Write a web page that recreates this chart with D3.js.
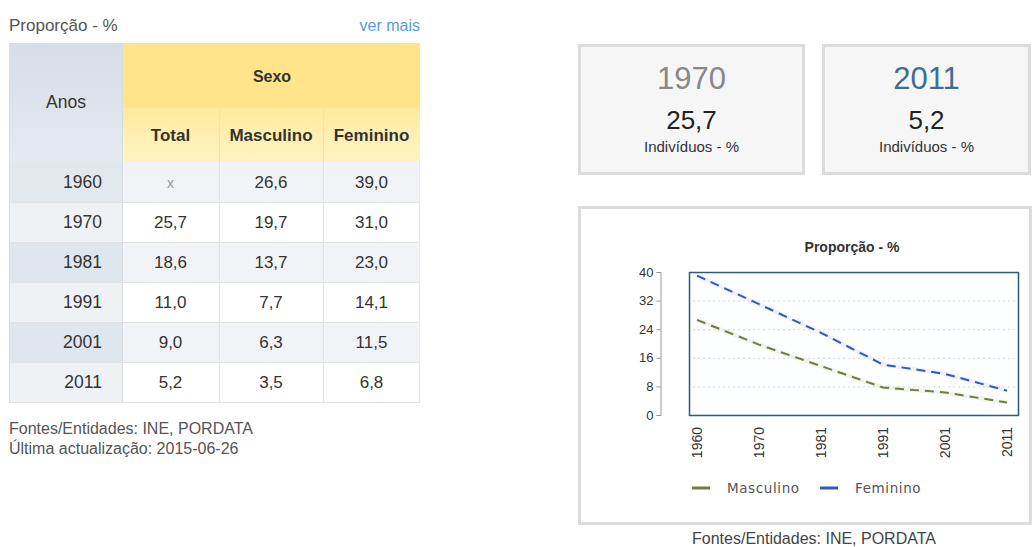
<!DOCTYPE html>
<html>
<head>
<meta charset="utf-8">
<script src="https://cdn.jsdelivr.net/npm/d3@7"></script>
<style>
  html, body { margin: 0; padding: 0; background: #fff; }
  svg { display: block; font-family: "Liberation Sans", Arial, sans-serif; }
</style>
</head>
<body>
<div id="page"></div>
<script>
// Data
const years = ['1960', '1970', '1981', '1991', '2001', '2011'];
const total = [null, 25.7, 18.6, 11.0, 9.0, 5.2];
const masculino = [26.6, 19.7, 13.7, 7.7, 6.3, 3.5];
const feminino = [39.0, 31.0, 23.0, 14.1, 11.5, 6.8];
const columns = ['Total', 'Masculino', 'Feminino'];
const yTicks = [0, 8, 16, 24, 32, 40];
const seriesNames = ['Masculino', 'Feminino'];

const fmt = v => v == null ? 'x' : d3.format('.1f')(v).replace('.', ',');

const svg = d3.select('#page').append('svg')
  .attr('width', 1033)
  .attr('height', 547);

// ---------- Left: table ----------
const table = svg.append('g').attr('class', 'table');

table.append('text')
  .attr('x', 9).attr('y', 31)
  .attr('font-size', 17).attr('fill', '#555')
  .text('Proporção - %');

table.append('text')
  .attr('x', 420).attr('y', 31)
  .attr('text-anchor', 'end')
  .attr('font-size', 16).attr('fill', '#5a9bd5')
  .text('ver mais');

const colX = d3.scaleOrdinal()
  .domain(['Anos', ...columns])
  .range([9, 122, 219, 323]);
const colW = d3.scaleOrdinal()
  .domain(['Anos', ...columns])
  .range([113, 97, 104, 97]);

const rowY = d3.scaleBand().domain(years).range([162, 402]);

// header cells
const grad = svg.append('defs');
const g1 = grad.append('linearGradient').attr('id', 'anosGrad').attr('x1', 0).attr('y1', 0).attr('x2', 0).attr('y2', 1);
g1.append('stop').attr('offset', 0).attr('stop-color', '#d5dee6');
g1.append('stop').attr('offset', 1).attr('stop-color', '#e4eaef');
const g2 = grad.append('linearGradient').attr('id', 'subGrad').attr('x1', 0).attr('y1', 0).attr('x2', 0).attr('y2', 1);
g2.append('stop').attr('offset', 0).attr('stop-color', '#ffeb9e');
g2.append('stop').attr('offset', 1).attr('stop-color', '#fff3c4');

table.append('rect')
  .attr('x', 9).attr('y', 43).attr('width', 113).attr('height', 119)
  .attr('fill', 'url(#anosGrad)');
table.append('rect')
  .attr('x', 122).attr('y', 43).attr('width', 298).attr('height', 65)
  .attr('fill', '#ffe48a');
table.append('rect')
  .attr('x', 122).attr('y', 108).attr('width', 298).attr('height', 54)
  .attr('fill', 'url(#subGrad)');

table.append('text')
  .attr('x', 66).attr('y', 108)
  .attr('text-anchor', 'middle')
  .attr('font-size', 17.5).attr('fill', '#333')
  .text('Anos');
table.append('text')
  .attr('x', 272).attr('y', 82)
  .attr('text-anchor', 'middle')
  .attr('font-size', 16).attr('font-weight', 'bold').attr('fill', '#333')
  .text('Sexo');

table.selectAll('.sub-head')
  .data(columns)
  .enter()
  .append('text')
  .attr('class', 'sub-head')
  .attr('x', d => colX(d) + colW(d) / 2)
  .attr('y', 141)
  .attr('text-anchor', 'middle')
  .attr('font-size', 17).attr('font-weight', 'bold').attr('fill', '#333')
  .text(d => d);

// body rows
const rows = years.map((y, i) => ({
  year: y,
  i,
  values: [total[i], masculino[i], feminino[i]]
}));

const row = table.selectAll('.row')
  .data(rows)
  .enter()
  .append('g')
  .attr('class', 'row')
  .attr('transform', d => `translate(0,${rowY(d.year)})`);

row.append('rect')
  .attr('x', 9).attr('width', 113).attr('height', rowY.bandwidth())
  .attr('fill', d => d.i === 0 ? '#e3e8ed' : (d.i % 2 === 0 ? '#dfe6ec' : '#eff2f5'));
row.append('rect')
  .attr('x', 122).attr('width', 298).attr('height', rowY.bandwidth())
  .attr('fill', d => d.i % 2 === 0 ? '#f1f3f6' : '#ffffff');

row.append('text')
  .attr('x', 102).attr('y', 26)
  .attr('text-anchor', 'end')
  .attr('font-size', 17.5).attr('fill', '#333')
  .text(d => d.year);

row.selectAll('.val')
  .data(d => d.values.map((v, k) => ({ v, col: columns[k] })))
  .enter()
  .append('text')
  .attr('class', 'val')
  .attr('x', d => colX(d.col) + colW(d.col) / 2)
  .attr('y', 26)
  .attr('text-anchor', 'middle')
  .attr('font-size', d => d.v == null ? 14 : 17)
  .attr('fill', d => d.v == null ? '#999' : '#333')
  .text(d => fmt(d.v));

// grid lines of the table
table.selectAll('.hline')
  .data(years.slice(1).concat(['end']))
  .enter()
  .append('line')
  .attr('x1', 9).attr('x2', 420)
  .attr('y1', d => d === 'end' ? 402.5 : rowY(d) + 0.5)
  .attr('y2', d => d === 'end' ? 402.5 : rowY(d) + 0.5)
  .attr('stroke', '#e2e2e2');

table.selectAll('.vline')
  .data(['Masculino', 'Feminino'])
  .enter()
  .append('line')
  .attr('x1', d => colX(d) + 0.5).attr('x2', d => colX(d) + 0.5)
  .attr('y1', 108).attr('y2', 402)
  .attr('stroke', '#e2e2e2');

table.append('line')
  .attr('x1', 122.5).attr('x2', 122.5).attr('y1', 43).attr('y2', 402)
  .attr('stroke', '#d6dce2');
table.append('line')
  .attr('x1', 9.5).attr('x2', 9.5).attr('y1', 43).attr('y2', 402)
  .attr('stroke', '#d8dde2');
table.append('line')
  .attr('x1', 419.5).attr('x2', 419.5).attr('y1', 162).attr('y2', 402)
  .attr('stroke', '#e6e6e6');

table.append('text')
  .attr('x', 9).attr('y', 434)
  .attr('font-size', 16).attr('fill', '#555')
  .text('Fontes/Entidades: INE, PORDATA');
table.append('text')
  .attr('x', 9).attr('y', 454)
  .attr('font-size', 16).attr('fill', '#555')
  .text('Última actualização: 2015-06-26');

// ---------- Right: highlight cards ----------
const cards = [
  { year: years[1], value: total[1], x: 578, w: 227, color: '#888' },
  { year: years[years.length - 1], value: total[total.length - 1], x: 822, w: 209, color: '#3d6e96' }
];

const card = svg.selectAll('.card')
  .data(cards)
  .enter()
  .append('g')
  .attr('class', 'card')
  .attr('transform', d => `translate(${d.x},44)`);

card.append('rect')
  .attr('x', 1.5).attr('y', 1.5)
  .attr('width', d => d.w - 3).attr('height', 128)
  .attr('fill', '#f6f6f6')
  .attr('stroke', '#dcdcdc').attr('stroke-width', 3);

card.append('text')
  .attr('x', d => d.w / 2).attr('y', 45)
  .attr('text-anchor', 'middle')
  .attr('font-size', 31)
  .attr('fill', d => d.color)
  .text(d => d.year);
card.append('text')
  .attr('x', d => d.w / 2).attr('y', 85)
  .attr('text-anchor', 'middle')
  .attr('font-size', 26).attr('fill', '#222')
  .text(d => fmt(d.value));
card.append('text')
  .attr('x', d => d.w / 2).attr('y', 108)
  .attr('text-anchor', 'middle')
  .attr('font-size', 15).attr('fill', '#333')
  .text('Indivíduos - %');

// ---------- Right: line chart ----------
const chart = svg.append('g').attr('class', 'chart');

chart.append('rect')
  .attr('x', 579.5).attr('y', 207.5)
  .attr('width', 451).attr('height', 316)
  .attr('fill', '#fff')
  .attr('stroke', '#dcdcdc').attr('stroke-width', 3);

chart.append('text')
  .attr('x', 852).attr('y', 252)
  .attr('text-anchor', 'middle')
  .attr('font-size', 14).attr('font-weight', 'bold').attr('fill', '#333')
  .text('Proporção - %');

const plot = { left: 689, right: 1018, top: 272, bottom: 415 };

const x = d3.scalePoint()
  .domain(years)
  .range([697, 1007]);

const y = d3.scaleLinear()
  .domain([0, 40])
  .range([plot.bottom, plot.top]);

chart.append('rect')
  .attr('x', plot.left).attr('y', plot.top)
  .attr('width', plot.right - plot.left).attr('height', plot.bottom - plot.top)
  .attr('fill', '#fdfeff');

// dotted grid
chart.selectAll('.grid')
  .data(yTicks.filter(t => t > 0 && t < 40))
  .enter()
  .append('line')
  .attr('class', 'grid')
  .attr('x1', plot.left + 4).attr('x2', plot.right - 2)
  .attr('y1', d => y(d) + 0.5).attr('y2', d => y(d) + 0.5)
  .attr('stroke', '#d8d8d8')
  .attr('stroke-dasharray', '2,3');

// y axis, detached from the plot box
const yAxis = chart.append('g')
  .attr('transform', 'translate(660.5,0)')
  .call(d3.axisLeft(y).tickValues(yTicks).tickSize(4).tickPadding(3));
yAxis.select('.domain').attr('stroke', '#999');
yAxis.selectAll('.tick line').attr('stroke', '#999');
yAxis.selectAll('.tick text')
  .attr('font-size', 13).attr('fill', '#333')
  .attr('font-family', '"Liberation Sans", Arial, sans-serif');

// x axis labels (rotated)
const xAxis = chart.append('g')
  .attr('transform', `translate(0,${plot.bottom})`)
  .call(d3.axisBottom(x).tickSize(0).tickPadding(0));
xAxis.select('.domain').remove();
xAxis.selectAll('.tick text')
  .attr('font-size', 14).attr('fill', '#333')
  .attr('font-family', '"Liberation Sans", Arial, sans-serif')
  .attr('transform', 'rotate(-90)')
  .attr('text-anchor', 'end')
  .attr('x', -12).attr('y', 0).attr('dy', '0.35em');

// series
const series = [
  { name: seriesNames[0], values: masculino, color: '#6f7f3c', halo: '#dde3c8' },
  { name: seriesNames[1], values: feminino, color: '#3557c4', halo: '#d6ddf5' }
];

const line = d3.line()
  .x((d, i) => x(years[i]))
  .y(d => y(d));

chart.selectAll('.halo')
  .data(series)
  .enter()
  .append('path')
  .attr('d', d => line(d.values))
  .attr('fill', 'none')
  .attr('stroke', d => d.halo)
  .attr('stroke-width', 4)
  .attr('stroke-opacity', 0.4);

chart.selectAll('.series')
  .data(series)
  .enter()
  .append('path')
  .attr('class', 'series')
  .attr('d', d => line(d.values))
  .attr('fill', 'none')
  .attr('stroke', d => d.color)
  .attr('stroke-width', 2)
  .attr('stroke-dasharray', '9,6');

// plot frame
chart.append('rect')
  .attr('x', plot.left + 0.5).attr('y', plot.top + 0.5)
  .attr('width', plot.right - plot.left).attr('height', plot.bottom - plot.top)
  .attr('fill', 'none')
  .attr('stroke', '#2d5a74').attr('stroke-width', 1.5);

// legend
const legend = chart.selectAll('.legend')
  .data(series)
  .enter()
  .append('g')
  .attr('class', 'legend')
  .attr('transform', (d, i) => `translate(${692 + i * 128},488)`);

legend.append('line')
  .attr('x1', 0).attr('x2', 18)
  .attr('stroke', d => d.color).attr('stroke-width', 3);
legend.append('text')
  .attr('x', 35).attr('dy', '0.35em')
  .attr('font-family', '"DejaVu Sans", Verdana, sans-serif')
  .attr('font-size', 13.5).attr('letter-spacing', 0.6)
  .attr('fill', '#555')
  .text(d => d.name);

svg.append('text')
  .attr('x', 814).attr('y', 544)
  .attr('text-anchor', 'middle')
  .attr('font-size', 16).attr('fill', '#444')
  .text('Fontes/Entidades: INE, PORDATA');
</script>
</body>
</html>
